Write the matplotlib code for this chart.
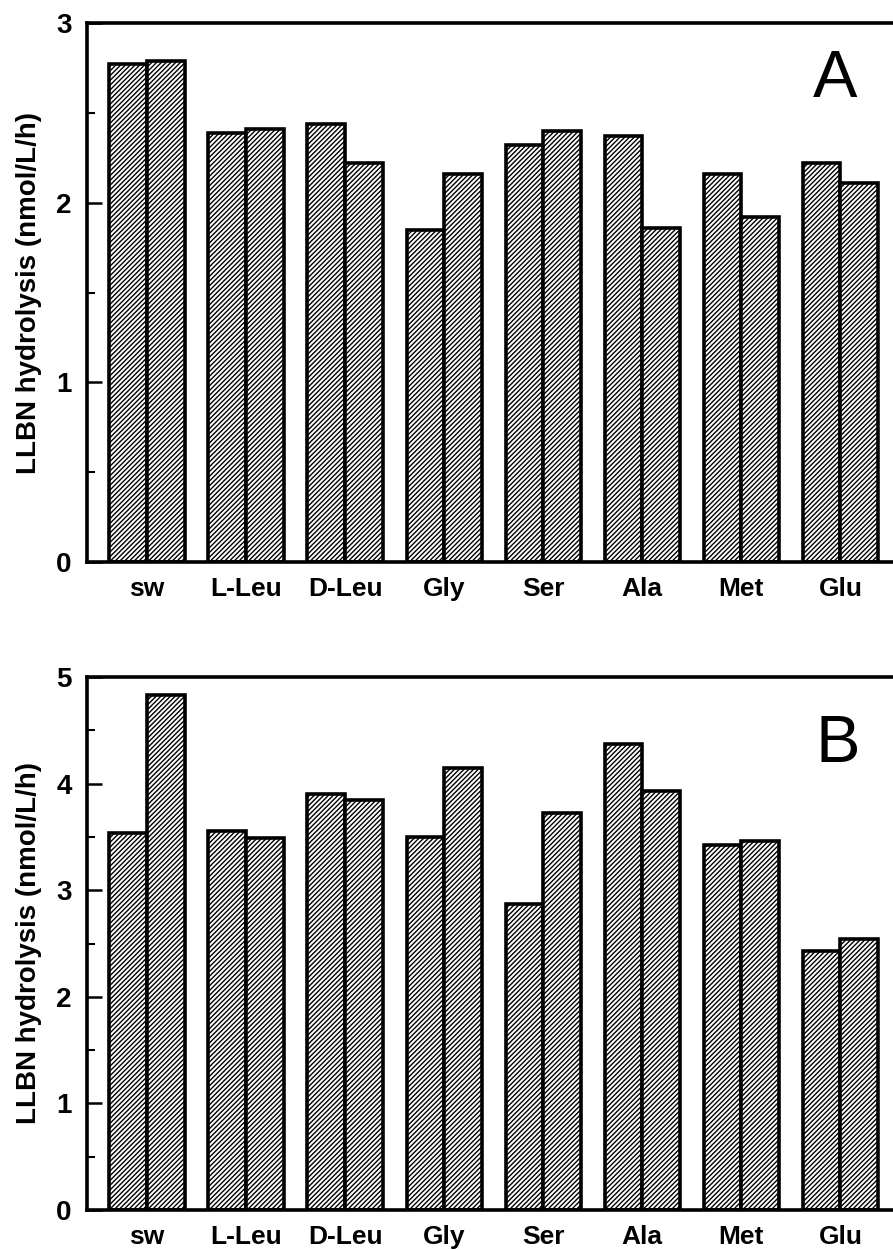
import numpy as np
import matplotlib
matplotlib.use("Agg")
import matplotlib.pyplot as plt
from matplotlib.ticker import MultipleLocator

plt.rcParams['font.family'] = ['Liberation Sans', 'DejaVu Sans']
plt.rcParams['hatch.linewidth'] = 1.0

treatments = ['sw', 'L-Leu', 'D-Leu', 'Gly', 'Ser', 'Ala', 'Met', 'Glu']

# LLBN hydrolysis, two replicate bars per treatment
panel_a_first = [2.77, 2.39, 2.44, 1.85, 2.32, 2.37, 2.16, 2.22]
panel_a_second = [2.79, 2.41, 2.22, 2.16, 2.40, 1.86, 1.92, 2.11]

panel_b_first = [3.54, 3.56, 3.90, 3.50, 2.87, 4.37, 3.42, 2.43]
panel_b_second = [4.83, 3.49, 3.85, 4.15, 3.72, 3.93, 3.46, 2.54]

ylabel = 'LLBN hydrolysis (nmol/L/h)'


def draw_panel(ax, first, second, ymax, letter, letter_xy):
    x = np.arange(len(treatments))
    w = 0.38
    for vals, off in ((first, -w / 2), (second, w / 2)):
        ax.bar(x + off, vals, width=w, color='white', edgecolor='black',
               linewidth=2.6, hatch='///////', zorder=2)
    ax.set_xlim(-0.605, 7.53)
    ax.set_ylim(0, ymax)
    ax.set_xticks(x)
    ax.set_xticklabels(treatments, fontsize=19, fontweight='bold')
    ax.tick_params(axis='x', length=0, pad=11)
    ax.yaxis.set_major_locator(MultipleLocator(1))
    ax.yaxis.set_minor_locator(MultipleLocator(0.5))
    ax.tick_params(axis='y', which='major', direction='in', length=11,
                   width=1.8, labelsize=20, pad=11)
    ax.tick_params(axis='y', which='minor', direction='in', length=6, width=1.5)
    for lab in ax.get_yticklabels():
        lab.set_fontweight('bold')
    ax.spines['right'].set_visible(False)
    for side in ('left', 'top', 'bottom'):
        ax.spines[side].set_linewidth(2.6)
    ax.set_ylabel(ylabel, fontsize=20, fontweight='bold', labelpad=10)
    ax.text(letter_xy[0], letter_xy[1], letter, transform=ax.transAxes,
            fontsize=48, ha='center', va='center')


fig = plt.figure(figsize=(8.93, 12.5), dpi=100)
ax_a = fig.add_axes([0.0974, 0.5504, 1 - 0.0974, 0.9816 - 0.5504])
ax_b = fig.add_axes([0.0974, 0.032, 1 - 0.0974, 0.4584 - 0.032])

draw_panel(ax_a, panel_a_first, panel_a_second, 3, 'A', (0.928, 0.894))
draw_panel(ax_b, panel_b_first, panel_b_second, 5, 'B', (0.932, 0.872))

fig.savefig('out.png', dpi=100)
